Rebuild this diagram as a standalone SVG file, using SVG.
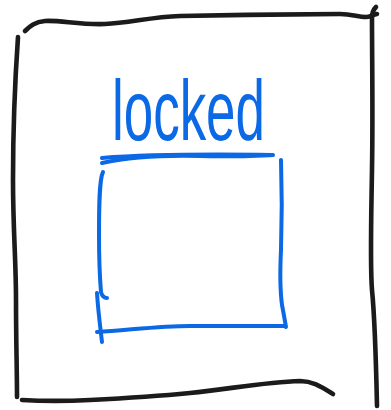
<svg xmlns="http://www.w3.org/2000/svg" width="391" height="410" viewBox="0 0 391 410">
  <style>
    .ink { fill: none; stroke-linecap: round; stroke-linejoin: round; }
    .black { stroke: #1b1b1b; stroke-width: 4.6; }
    .blue { stroke: #0b69e6; stroke-width: 4; }
    .label { font-family: "Liberation Sans", Arial, sans-serif; font-size: 52px; fill: #0b69e6; }
  </style>
  <rect width="391" height="410" fill="#ffffff"/>
  <g id="frame" class="ink black">
    <path d="M25,31 C30,26 35,22 45,21 C60,20 80,25 105,24 C130,23 150,17 180,16 C230,15 300,14 340,14 C352,14 358,17 366,17 C370,17 372,15 377,14"/>
    <path d="M376,7 C373,10 372,13 372,18 C372,60 373,110 372,170 C371,230 370,265 372,290 C375,320 376,360 377,406"/>
    <path d="M18,37 C15,80 13,130 13,180 C13,230 16,260 16,300 C16,340 17,370 17,397"/>
    <path d="M22,400 C40,401 70,401 90,400 C130,398 160,396 190,393 C230,389 265,382 300,381 C312,381 320,386 333,394"/>
  </g>
  <g id="locked">
    <text class="label" x="112" y="140" transform="translate(0,-91) scale(1,1.65)" textLength="153" lengthAdjust="spacingAndGlyphs">locked</text>
    <path class="ink blue" d="M102,158 C140,155 200,154 272,155"/>
  </g>
  <g id="box" class="ink blue">
    <path d="M102,163 C130,157 160,155 200,156 C230,157 250,156 273,155"/>
    <path d="M103,172 C99,180 99,210 99,235 C99,260 100,280 101,292 C102,296 104,298 107,298"/>
    <path d="M97,293 C98,310 100,325 102,342"/>
    <path d="M97,332 C130,330 160,326 190,326 C230,326 260,326 285,326"/>
    <path d="M281,160 C282,190 282,220 281,250 C280,270 280,290 282,305 C284,315 285,322 286,327"/>
  </g>
</svg>
